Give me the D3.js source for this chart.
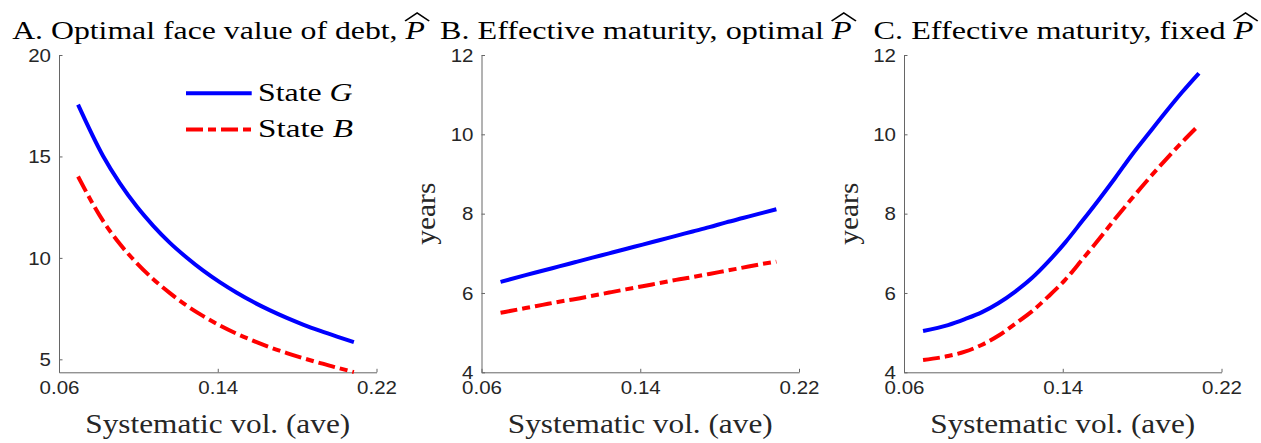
<!DOCTYPE html>
<html><head><meta charset="utf-8">
<script src="https://cdn.jsdelivr.net/npm/d3@7"></script>
<style>body{margin:0;background:#fff} svg{display:block}</style>
</head><body><svg id="c" width="1261" height="443"></svg>
<script>
// ---- data ----
const xVol = [0.0696,0.0822,0.0907,0.0991,0.1075,0.1159,0.1243,0.1327,0.1412,0.1496,0.1580,0.1664,0.1748,0.1833,0.1917,0.2001,0.2086];
const faceG = [17.55,15.02,13.67,12.54,11.58,10.74,10.02,9.37,8.79,8.28,7.82,7.41,7.04,6.70,6.40,6.12,5.85];
const faceB = [14.01,11.82,10.68,9.75,8.95,8.26,7.65,7.13,6.66,6.26,5.91,5.59,5.31,5.05,4.81,4.59,4.37];
const matOptG = [6.28,6.45,6.56,6.67,6.78,6.89,7.00,7.11,7.22,7.33,7.44,7.55,7.66,7.78,7.89,8.00,8.11];
const matOptB = [5.50,5.62,5.70,5.78,5.85,5.93,6.01,6.09,6.17,6.25,6.33,6.40,6.48,6.56,6.64,6.72,6.79];
const matFixG = [5.04,5.19,5.34,5.51,5.74,6.03,6.37,6.79,7.27,7.80,8.34,8.90,9.48,10.02,10.55,11.06,11.54];
const matFixB = [4.31,4.41,4.52,4.69,4.92,5.22,5.53,5.91,6.33,6.83,7.34,7.87,8.38,8.88,9.35,9.80,10.23];
const xTicks = [0.06,0.14,0.22];
const yTicksA = [5,10,15,20];
const yTicksBC = [4,6,8,10,12];
const titleTexts = ["A. Optimal face value of debt, ", "B. Effective maturity, optimal ", "C. Effective maturity, fixed "];
const xLabel = "Systematic vol. (ave)";
const yLabel = "years";
const legendNames = [["State ", "G"], ["State ", "B"]];

// ---- layout ----
const svg = d3.select("#c");
const lefts = [59, 481.5, 904], W = 317.5, yTop = 55, yBot = 372.3;
const serif = "'Liberation Serif', 'DejaVu Serif', serif";
const sans = "'Liberation Sans', Arial, sans-serif";
const tickScale = 1.14;
const panels = [
  {series:[faceG, faceB], ydom:[4.36,20], yt:yTicksA, ylab:false, title:titleTexts[0], tw:413, tc:218.5},
  {series:[matOptG, matOptB], ydom:[4,12], yt:yTicksBC, ylab:true, title:titleTexts[1], tw:412, tc:645.8},
  {series:[matFixG, matFixB], ydom:[4,12], yt:yTicksBC, ylab:true, title:titleTexts[2], tw:380, tc:1063.5}
];
const colors = ["#0000ff", "#ff0000"];
const dashes = [null, "17,5,8,5"];

function fit(text, targetW) {
  const w = text.node().getBBox().width;
  return targetW / w;
}

panels.forEach((p, i) => {
  const L = lefts[i];
  const x = d3.scaleLinear().domain([0.06, 0.22]).range([L, L + W]);
  const y = d3.scaleLinear().domain(p.ydom).range([yBot, yTop]);

  // axes
  const gx = svg.append("g").attr("transform", `translate(0,${yBot})`)
    .call(d3.axisBottom(x).tickValues(xTicks).tickFormat(d3.format(".2f")).tickSizeInner(-3.5).tickSizeOuter(0).tickPadding(9));
  const gy = svg.append("g").attr("transform", `translate(${L},0)`)
    .call(d3.axisLeft(y).tickValues(p.yt).tickFormat(d3.format("d")).tickSizeInner(-3.5).tickSizeOuter(0).tickPadding(8));
  [gx, gy].forEach(g => {
    g.select(".domain").attr("stroke", "#666").attr("stroke-width", 1);
    g.selectAll(".tick line").attr("stroke", "#666").attr("stroke-width", 1);
    g.selectAll(".tick text").attr("fill", "#262626").style("font-family", sans).style("font-size", "18px")
      .attr("transform", `scale(${tickScale},1)`);
  });
  gx.selectAll(".tick text").attr("dy", "0.7em");
  gy.selectAll(".tick text").attr("dy", "0.35em").attr("x", -8 / tickScale);

  // lines
  p.series.forEach((s, k) => {
    const line = d3.line().x((d, j) => x(xVol[j])).y(d => y(d)).curve(d3.curveMonotoneX);
    svg.append("path").datum(s).attr("d", line).attr("fill", "none")
      .attr("stroke", colors[k]).attr("stroke-width", 4)
      .attr("stroke-dasharray", dashes[k]).attr("stroke-linecap", "butt");
  });

  // title
  const tg = svg.append("g");
  const tt = tg.append("text").attr("text-anchor", "middle").attr("fill", "#000")
    .style("font-family", serif).style("font-size", "24.5px");
  tt.append("tspan").text(p.title);
  tt.append("tspan").attr("font-style", "italic").text("P");
  const s = fit(tt, p.tw);
  tg.attr("transform", `translate(${p.tc},38.5) scale(${s},1)`);
  const n = p.title.length;
  const ext = tt.node().getExtentOfChar(n);
  const cx = ext.x + ext.width / 2 + 1.5;
  const hw = ext.width * 0.62;
  tg.append("path").attr("d", `M${cx - hw},-17.5 L${cx},-25.5 L${cx + hw},-17.5`)
    .attr("fill", "none").attr("stroke", "#000").attr("stroke-width", 1.4);

  // x label
  const xg = svg.append("g");
  const xt = xg.append("text").attr("text-anchor", "middle").attr("fill", "#262626")
    .style("font-family", serif).style("font-size", "28px").text(xLabel);
  xg.attr("transform", `translate(${L + W / 2},432.5) scale(${fit(xt, 265)},1)`);

  // y label
  if (p.ylab) {
    const yg = svg.append("g");
    const yt = yg.append("text").attr("text-anchor", "middle").attr("fill", "#262626")
      .style("font-family", serif).style("font-size", "28px").text(yLabel);
    yg.attr("transform", `translate(${L - 46.5},${(yTop + yBot) / 2}) rotate(-90) scale(${fit(yt, 62)},1)`);
  }

  // legend (panel A)
  if (i === 0) {
    const ly = [93.3, 129.5];
    legendNames.forEach((nm, k) => {
      svg.append("line").attr("x1", 186).attr("x2", 251.7).attr("y1", ly[k]).attr("y2", ly[k])
        .attr("stroke", colors[k]).attr("stroke-width", 4).attr("stroke-dasharray", dashes[k]);
      const lg = svg.append("g");
      const lt = lg.append("text").attr("fill", "#000").style("font-family", serif).style("font-size", "24.5px");
      lt.append("tspan").text(nm[0]);
      lt.append("tspan").attr("font-style", "italic").text(nm[1]);
      lg.attr("transform", `translate(258,${ly[k] + 7.4}) scale(${fit(lt, 95)},1)`);
    });
  }
});
</script></body></html>
